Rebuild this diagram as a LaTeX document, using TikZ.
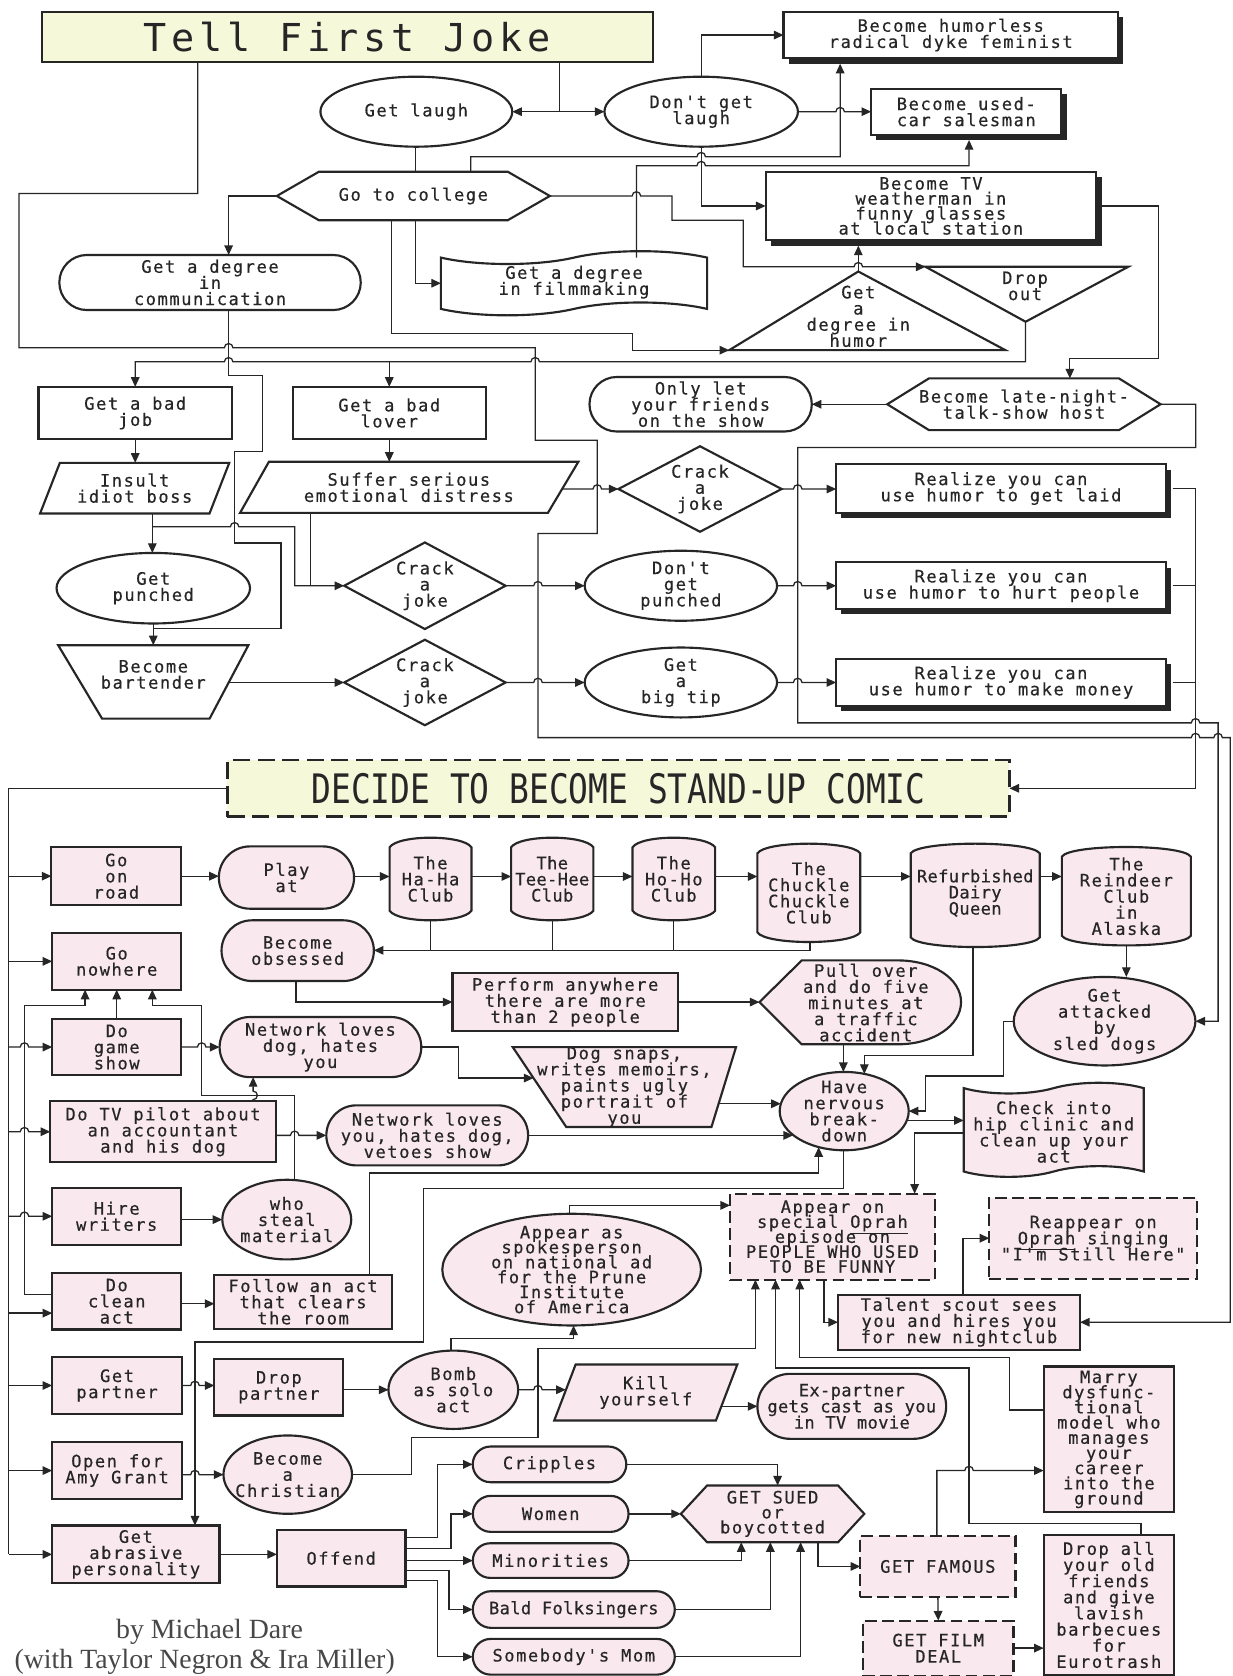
\documentclass[tikz,border=0pt]{standalone}
\usepackage{fontspec}
\usepackage{graphicx}
\usetikzlibrary{arrows.meta,shapes.geometric,shapes.misc,shapes.symbols,shadows}
\setmainfont{Liberation Serif}
\newfontfamily\monof[LetterSpace=9,FakeBold=0.4]{DejaVu Sans Mono}
\newfontfamily\monot[LetterSpace=2,FakeBold=0.4]{DejaVu Sans Mono}
\newfontfamily\titlef[LetterSpace=13]{DejaVu Sans Mono}
\newfontfamily\monoz{DejaVu Sans Mono}
\definecolor{ln}{RGB}{38,38,38}
\definecolor{pk}{RGB}{249,232,237}
\definecolor{yl}{RGB}{246,248,218}
\newcommand\bodyfs{\fontsize{16}{15.1}\selectfont\lineskiplimit=-30pt\lineskip=0pt}
\newcommand\tightfs{\fontsize{16}{14}\selectfont\lineskiplimit=-30pt\lineskip=0pt}
\newcommand\marryfs{\fontsize{16}{14.2}\selectfont\lineskiplimit=-30pt\lineskip=0pt}
\newcommand\clubshape[4]{\draw[pshp] (#1,{#3+9}) .. controls ({#1+8},{#3-3}) and ({#2-8},{#3-3}) .. (#2,{#3+9}) -- (#2,{#4-9}) .. controls ({#2-8},{#4+3}) and ({#1+8},{#4+3}) .. (#1,{#4-9}) -- cycle;}
\newcommand\hexshape[6]{\draw[#6] (#1,{(#3+#4)/2}) -- ({#1+#5},#3) -- ({#2-#5},#3) -- (#2,{(#3+#4)/2}) -- ({#2-#5},#4) -- ({#1+#5},#4) -- cycle;}
\newcommand\diashape[4]{\draw[shp] ({#1-#3},#2) -- (#1,{#2-#4}) -- ({#1+#3},#2) -- (#1,{#2+#4}) -- cycle;}
\tikzset{
  every node/.style={inner sep=0pt, outer sep=0pt},
  wh/.style 2 args={minimum width=#1pt, minimum height=#2pt},
  bd/.style={draw=ln, line width=2pt},
  box/.style={bd, rectangle, fill=white, align=center, font=\monof\bodyfs, text=ln},
  pbox/.style={box, fill=pk},
  sbox/.style={box, drop shadow={shadow xshift=5pt, shadow yshift=-5pt, fill=ln, opacity=1}},
  ell/.style={bd, ellipse, fill=white},
  pell/.style={ell, fill=pk},
  stad/.style={bd, rounded rectangle, fill=white},
  pstad/.style={stad, fill=pk},
  dbox/.style={pbox, dashed, dash pattern=on 11pt off 5pt},
  txt/.style={rectangle, align=center, font=\monof\bodyfs, text=ln},
  shp/.style={draw=ln, line width=2pt, fill=white, line join=miter},
  pshp/.style={shp, fill=pk},
  con/.style={draw=ln, line width=1.2pt},
  arr/.style={con, -{Triangle[length=9pt,width=8pt]}},
  hbr/.style args={#1,#2}{insert path={-- ({#1-4},#2) arc[start angle=180,end angle=0,radius=4pt]}},
  hbl/.style args={#1,#2}{insert path={-- ({#1+4},#2) arc[start angle=0,end angle=180,radius=4pt]}},
  vbu/.style args={#1,#2}{insert path={-- (#1,{#2+4}) arc[start angle=-90,end angle=90,radius=4pt]}},
}
\begin{document}
\begin{tikzpicture}[x=1pt,y=-1pt]
\fill[white] (0,0) rectangle (1153,1568);
\useasboundingbox (0,0) rectangle (1153,1568);

% ================= TOP =================
\node[box, fill=yl, wh={571.6}{46.8}, font=\titlef\fontsize{36}{36}\selectfont] (tfj) at (324.8,34.3) {Tell First Joke};
\node[sbox, wh={313}{43.7}] (humorless) at (889.5,32.8) {Become humorless\\radical dyke feminist};
\node[ell, wh={179.5}{65.5}] (getlaugh) at (389.5,104.5) {};
\node[txt] (getlaugh-t) at (getlaugh) {Get laugh};
\node[ell, wh={181}{65.5}] (dontget) at (656,104.5) {};
\node[txt] (dontget-t) at (dontget) {Don't get\\laugh};
\node[sbox, wh={178}{43}] (usedcar) at (904,104.5) {Become used-\\car salesman};
\hexshape{259}{514.4}{160.7}{206}{39.3}{shp}
\node[txt, wh={255.4}{45.3}] (college) at (386.7,183.35) {Go to college};
\node[sbox, wh={309.3}{64}, font=\monof\tightfs] (weather) at (870.9,192.7) {Become TV\\weatherman in\\funny glasses\\at local station};
\node[stad, wh={282}{51.5}] (comm) at (196.5,264.3) {};
\node[txt] (comm-t) at (comm) {Get a degree\\in\\communication};
\node[bd, tape, fill=white, tape bend height=12pt, wh={249}{60}] (film) at (537,265) {};
\node[txt] (film-t) at (537,264) {Get a degree\\in filmmaking};
\draw[shp] (803,254) -- (940.6,327.6) -- (682.2,327.6) -- cycle;
\node[txt] (humordeg) at (803,296) {Get\\a\\degree in\\humor};
\coordinate (hdtop) at (803,254);
\coordinate (hdbl) at (682.2,327.6);
\draw[shp] (865.9,249.6) -- (1055.5,249.6) -- (959.5,301) -- cycle;
\node[txt] (dropout) at (959,267.5) {Drop\\out};
\coordinate (dotl) at (865.9,249.6);
\coordinate (dobot) at (959.5,301);
\hexshape{830.1}{1085.8}{354}{402.4}{39}{shp}
\node[txt, wh={255.7}{48.4}] (latenight) at (958,378.2) {Become late-night-\\talk-show host};
\node[stad, wh={208}{51}] (friends) at (655.5,378.2) {};
\node[txt] (friends-t) at (friends) {Only let\\your friends\\on the show};
\node[box, wh={181}{49}] (badjob) at (126.5,386.4) {Get a bad\\job};
\node[box, wh={180.6}{49}] (badlover) at (364.2,386.4) {Get a bad\\lover};
\draw[shp] (56,433) -- (214.5,433) -- (196,480.4) -- (37.5,480.4) -- cycle;
\node[txt, wh={158.5}{47.4}] (insult) at (126,456.7) {Insult\\idiot boss};
\draw[shp] (251.6,432) -- (541.1,432) -- (512.6,479.8) -- (224.6,479.8) -- cycle;
\node[txt, wh={288.6}{47.8}] (suffer) at (382.5,456) {Suffer serious\\emotional distress};
\diashape{654.9}{457.5}{76.35}{40}
\node[txt, wh={152.7}{80}] (crack1) at (654.9,457.5) {Crack\\a\\joke};
\node[ell, wh={181}{66}] (punched) at (143.4,550.3) {};
\node[txt] (punched-t) at (punched) {Get\\punched};
\diashape{397.5}{548}{75.5}{40.5}
\node[txt, wh={151}{81}] (crack2) at (397.5,548) {Crack\\a\\joke};
\node[ell, wh={180}{65.5}] (dontpunch) at (637,548) {};
\node[txt] (dontpunch-t) at (dontpunch) {Don't\\get\\punched};
\draw[shp] (54.4,603.6) -- (232.4,603.6) -- (196.1,672.3) -- (95.5,672.3) -- cycle;
\node[txt, wh={141}{68.7}] (bartender) at (143.4,638) {};
\node[txt] (bartender-t) at (143.4,631) {Become\\bartender};
\diashape{397.5}{638.5}{75.5}{40}
\node[txt, wh={151}{80}] (crack3) at (397.5,638.5) {Crack\\a\\joke};
\node[ell, wh={180}{65.4}] (tip) at (637,638.5) {};
\node[txt] (tip-t) at (tip) {Get\\a\\big tip};
\node[sbox, wh={308.5}{45.5}] (laid) at (936.5,457) {Realize you can\\use humor to get laid};
\node[sbox, wh={308.5}{43.7}] (hurt) at (936.5,548) {Realize you can\\use humor to hurt people};
\node[sbox, wh={308.5}{43.7}] (money) at (936.5,638.5) {Realize you can\\use humor to make money};

% ================= DECIDE =================
\node[dbox, fill=yl, line width=2.4pt, dash pattern=on 16pt off 7pt, wh={731.6}{53}] (decide) at (578.6,737.5) {\scalebox{0.81}[1]{\monoz\fontsize{38}{38}\selectfont DECIDE TO BECOME STAND-UP COMIC}};

% ================= LOWER =================
\node[pbox, wh={121.4}{54.6}] (road) at (108.8,819.7) {Go\\on\\road};
\node[pbox, wh={120.7}{53}] (nowhere) at (109.2,899.4) {Go\\nowhere};
\node[pbox, wh={120.7}{53}] (game) at (109.2,979.6) {Do\\game\\show};
\node[pbox, wh={211}{56.8}] (pilot) at (152.5,1058.8) {Do TV pilot about\\an accountant\\and his dog};
\node[pbox, wh={120.7}{53.3}] (writers) at (109.2,1137.9) {Hire\\writers};
\node[pbox, wh={120.7}{52.8}] (clean) at (109.2,1217.4) {Do\\clean\\act};
\node[pbox, wh={121.4}{53}] (partner) at (109.5,1296.2) {Get\\partner};
\node[pbox, wh={121.4}{53}] (amy) at (109.5,1375.8) {Open for\\Amy Grant};
\node[pbox, wh={156.6}{54}] (abrasive) at (127.1,1454.2) {Get\\abrasive\\personality};

\node[pstad, wh={126.5}{58.3}] (playat) at (268,821) {};
\node[txt] (playat-t) at (playat) {Play\\at};
\node[pstad, wh={142.5}{56.8}] (obsessed) at (278.5,889.4) {};
\node[txt] (obsessed-t) at (obsessed) {Become\\obsessed};
\node[pstad, wh={188.7}{56.2}] (netdog) at (299.8,979.6) {};
\node[txt] (netdog-t) at (netdog) {Network loves\\dog, hates\\you};
\node[pell, wh={120.6}{74.5}] (steal) at (268.3,1141) {};
\node[txt] (steal-t) at (steal) {who\\steal\\material};
\node[pbox, wh={165.8}{50.5}] (follow) at (283.5,1217.9) {Follow an act\\that clears\\the room};
\node[pbox, wh={120.6}{53}] (droppartner) at (260.9,1297.8) {Drop\\partner};
\node[pell, wh={120.3}{73.3}] (christian) at (269.2,1379.6) {};
\node[txt] (christian-t) at (christian) {Become\\a\\Christian};
\node[pbox, wh={120.3}{53}] (offend) at (319.2,1457.8) {Offend};

\clubshape{364.5}{441.1}{783.7}{861}
\node[txt, wh={76.6}{77.3}] (haha) at (402.8,822.35) {The\\Ha-Ha\\Club};
\clubshape{478.2}{555.1}{783.7}{861}
\node[txt, wh={76.9}{77.3}, font=\monot\bodyfs] (teehee) at (516.65,822.35) {The\\Tee-Hee\\Club};
\clubshape{591.7}{669}{783.7}{861}
\node[txt, wh={77.3}{77.3}] (hoho) at (630.35,822.35) {The\\Ho-Ho\\Club};
\clubshape{708.6}{804.8}{789.3}{881.3}
\node[txt, wh={96.2}{92}] (chuckle) at (756.7,835.3) {The\\Chuckle\\Chuckle\\Club};
\clubshape{852}{972.7}{789.3}{886}
\node[txt, wh={120.7}{96.7}, font=\monot\bodyfs] (dairy) at (912.35,835.5) {Refurbished\\Dairy\\Queen};
\clubshape{993.4}{1114.1}{792.4}{884.5}
\node[txt, wh={120.7}{92.1}] (reindeer) at (1053.75,838.45) {The\\Reindeer\\Club\\in\\Alaska};

\node[pbox, wh={211}{54}] (perform) at (528.8,937.5) {Perform anywhere\\there are more\\than 2 people};
\draw[pshp] (710.5,937.5) -- (750.1,898.5) -- (840,898.5) .. controls (873,898.5) and (899.1,915.5) .. (899.1,937.5) .. controls (899.1,959.5) and (873,977) .. (840,977) -- (750.1,977) -- cycle;
\node[txt, wh={188.6}{78.5}] (pullover) at (804.8,937.5) {};
\node[txt] (pullover-t) at (810,938) {Pull over\\and do five\\minutes at\\a traffic\\accident};
\node[pell, wh={170}{82.8}] (sled) at (1033.4,955.4) {};
\node[txt] (sled-t) at (sled) {Get\\attacked\\by\\sled dogs};
\draw[pshp] (479.7,979.6) -- (688.6,979.6) -- (665.6,1054.4) -- (529.8,1054.4) -- cycle;
\node[txt, wh={209}{74.8}] (dogsnaps) at (584.2,1017) {Dog snaps,\\writes memoirs,\\paints ugly\\portrait of\\you};
\coordinate (dsin) at (499.1,1008.6);
\node[pstad, wh={188.8}{56.2}] (netyou) at (399.7,1062.2) {};
\node[txt] (netyou-t) at (netyou) {Network loves\\you, hates dog,\\vetoes show};
\node[pell, wh={120.7}{73.3}] (nervous) at (789.8,1039.5) {};
\node[txt] (nervous-t) at (nervous) {Have\\nervous\\break-\\down};
\node[bd, tape, fill=pk, tape bend height=10pt, wh={168.4}{88}] (hip) at (985.8,1057) {};
\node[txt] (hip-t) at (985.8,1059) {Check into\\hip clinic and\\clean up your\\act};
\node[dbox, wh={191.6}{80.5}, font=\monof\tightfs] (oprah) at (778.8,1157) {Appear on\\special \underline{Oprah}\\episode on\\PEOPLE WHO USED\\TO BE FUNNY};
\node[dbox, wh={194.3}{75.8}] (reappear) at (1022.7,1158.4) {Reappear on\\\underline{Oprah} singing\\"I'm Still Here"};
\node[pell, wh={242}{104.5}] (prune) at (534.8,1187.8) {};
\node[txt, font=\monof\tightfs] (prune-t) at (prune) {Appear as\\spokesperson\\on national ad\\for the Prune\\Institute\\of America};
\node[pbox, wh={226.4}{51.5}] (talent) at (897.2,1237) {Talent scout sees\\you and hires you\\for new nightclub};
\node[pell, wh={121.4}{73.3}] (bomb) at (424.1,1300.2) {};
\node[txt] (bomb-t) at (bomb) {Bomb\\as solo\\act};
\draw[pshp] (538.5,1276.6) -- (689.8,1276.6) -- (669.8,1329) -- (518.5,1329) -- cycle;
\node[txt, wh={151.3}{52.4}] (kill) at (604.2,1302.8) {Kill\\yourself};
\node[pstad, wh={176.6}{60.8}] (expartner) at (796.9,1315.7) {};
\node[txt, font=\monot\bodyfs] (expartner-t) at (expartner) {Ex-partner\\gets cast as you\\in TV movie};
\node[pbox, wh={122}{136.4}, font=\monof\marryfs] (marry) at (1037.4,1346.6) {Marry\\dysfunc-\\tional\\model who\\manages\\your\\career\\into the\\ground};
\node[pstad, wh={143.7}{33.4}] (cripples) at (514.1,1370) {};
\node[txt] (cripples-t) at (cripples) {Cripples};
\node[pstad, wh={145.7}{33.7}] (women) at (515.2,1416.3) {};
\node[txt] (women-t) at (women) {Women};
\node[pstad, wh={145.7}{32.4}] (minorities) at (515.2,1460) {};
\node[txt] (minorities-t) at (minorities) {Minorities};
\node[pstad, wh={189}{34.3}] (bald) at (536.8,1505.8) {};
\node[txt, font=\monot\bodyfs] (bald-t) at (bald) {Bald Folksingers};
\node[pstad, wh={189}{33.4}] (mom) at (536.8,1550) {};
\node[txt] (mom-t) at (mom) {Somebody's Mom};
\hexshape{637}{808.6}{1389.8}{1442.8}{24.5}{pshp}
\node[txt, wh={171.6}{53}, font=\monof\tightfs] (sued) at (722.8,1416.3) {GET SUED\\or\\boycotted};
\node[dbox, wh={145.2}{57.7}] (famous) at (877.4,1465.5) {GET FAMOUS};
\node[dbox, wh={140.7}{51.5}] (filmdeal) at (877.8,1541.9) {GET FILM\\DEAL};
\node[pbox, wh={122}{130.4}] (dropall) at (1037.4,1501.5) {Drop all\\your old\\friends\\and give\\lavish\\barbecues\\for\\Eurotrash};

\node[font=\fontsize{26}{26}\selectfont, text=ln!85, anchor=base] (by) at (196,1533) {by Michael Dare};
\node[font=\fontsize{26}{26}\selectfont, text=ln!85, anchor=base] (with) at (191.5,1561) {(with Taylor Negron \& Ira Miller)};

% ================= CONNECTORS: TOP =================
\draw[arr] (523.7,0 |- tfj.south) |- (getlaugh.east);
\draw[arr] (523.7,104.5) -- (dontget.west);
\draw[arr] (185,0 |- tfj.south) -- (185,181) -- (17.8,181) -- (17.8,325.4) [hbr={213.9,325.4}] -- (500.7,325.4) -- (500.7,411.8) -- (558.8,411.8) -- (558.8,499.1) -- (503.3,499.1) -- (503.3,690.1) [hbr={1118.5,690.1}] [hbr={1139.6,690.1}] -- (1151,690.1) |- (talent.east);
\draw[con] (388.6,0 |- getlaugh.south) -- (388.6,0 |- college.north);
\draw[arr] (440.4,0 |- college.north) -- (440.4,146.6) [hbr={656,146.6}] -- (786,146.6) -- (786,59.6);
\draw[arr] (dontget.north) |- (humorless.west);
\draw[arr] (dontget.east) [hbr={786,104.5}] -- (usedcar.west);
\draw[arr] (dontget.south) |- (weather.west);
\draw[arr] (595.4,0 |- film.north) -- (595.4,155) [hbr={656,155}] -- (906.6,155) -- (906.6,131);
\draw[arr] (college.east) [hbr={595.4,183.35}] -- (628.6,183.35) -- (628.6,206) -- (695.4,206) -- (695.4,249.6) [hbr={803,249.6}] -- (dotl);
\draw[arr] (college.west) -| (213.9,0 |- comm.north);
\draw[arr] (388.6,0 |- college.south) |- (film.west);
\draw[arr] (366.4,0 |- college.south) -- (366.4,312) -- (591.7,312) -- (591.7,327.6) -- (hdbl);
\draw[arr] (hdtop) -- (803,229.8);
\draw[arr] (1031,0 |- weather.east) -- (1083.7,192.7) -- (1083.7,335.4) -- (1000.9,335.4) -- (1000.9,0 |- latenight.north);
\draw[arr] (dobot) -- (959.5,338.5) [hbl={500.7,338.5}] [hbl={213.9,338.5}] -- (126.5,338.5) -- (badjob.north);
\draw[arr] (364.2,338.5) -- (badlover.north);
\draw[arr] (latenight.west) -- (friends.east);
\draw[arr] (latenight.east) -- (1118.6,378.2) -- (1118.6,418.6) -- (746.3,418.6) -- (746.3,676.3) [hbr={1118.5,676.3}] -- (1139.6,676.3) |- (sled.east);
\draw[con] (1097,0 |- hurt.east) -- (1118.5,0 |- hurt.east);
\draw[con] (1097,0 |- money.east) -- (1118.5,0 |- money.east);
\draw[arr] (1097,0 |- laid.east) -- (1118.5,0 |- laid.east) |- (decide.east);

% ================= CONNECTORS: MIDDLE =================
\draw[arr] (suffer.east |- crack1.west) [hbr={558.8,457.5}] -- (crack1.west);
\draw[arr] (crack1.east) [hbr={746.3,457.5}] -- (laid.west |- crack1.east);
\draw[arr] (badjob.south) -- (badjob.south |- insult.north);
\draw[arr] (badlover.south) -- (badlover.south |- suffer.north);
\draw[arr] (142.5,0 |- insult.south) -- (142.5,0 |- punched.north);
\draw[arr] (142.5,492.9) [hbr={219.5,492.9}] -- (275.7,492.9) |- (crack2.west);
\draw[con] (290.5,0 |- suffer.south) -- (290.5,0 |- crack2.west);
\draw[arr] (213.9,0 |- comm.south) -- (213.9,351) -- (245.4,351) -- (245.4,422.7) -- (219.5,422.7) -- (219.5,507.9) -- (262.8,507.9) -- (262.8,588) -- (143.4,588) -- (bartender.north);
\draw[con] (punched.south) -- (143.4,588);
\draw[arr] (bartender.east |- crack3.west) -- (crack3.west);
\draw[arr] (crack2.east) [hbr={503.3,548}] -- (dontpunch.west);
\draw[arr] (dontpunch.east) [hbr={746.3,548}] -- (hurt.west);
\draw[arr] (crack3.east) [hbr={503.3,638.5}] -- (tip.west);
\draw[arr] (tip.east) [hbr={746.3,638.5}] -- (money.west);

% ================= CONNECTORS: LOWER =================
\draw[con] (decide.west) -| (8.1,0 |- abrasive.west);
\draw[arr] (8.1,0 |- road.west) -- (road.west);
\draw[arr] (8.1,0 |- nowhere.west) -- (nowhere.west);
\draw[arr] (8.1,0 |- game.west) [hbr={22.9,979.6}] -- (game.west);
\draw[arr] (8.1,0 |- pilot.west) [hbr={22.9,1058.8}] -- (pilot.west);
\draw[arr] (8.1,0 |- writers.west) [hbr={22.9,1137.9}] -- (writers.west);
\draw[arr] (8.1,1228.5) -- (clean.west |- 0,1228.5);
\draw[arr] (8.1,0 |- partner.west) -- (partner.west);
\draw[arr] (8.1,0 |- amy.west) -- (amy.west);
\draw[arr] (8.1,0 |- abrasive.west) -- (abrasive.west);

\draw[arr] (road.east) -- (playat.west |- road.east);
\draw[arr] (playat.east |- 0,820) -- (haha.west |- 0,820);
\draw[arr] (haha.east |- 0,820) -- (teehee.west |- 0,820);
\draw[arr] (teehee.east |- 0,820) -- (hoho.west |- 0,820);
\draw[arr] (hoho.east |- 0,820) -- (chuckle.west |- 0,820);
\draw[arr] (chuckle.east |- 0,820) -- (dairy.west |- 0,820);
\draw[arr] (dairy.east |- 0,820) -- (reindeer.west |- 0,820);
\draw[arr] (757.7,0 |- chuckle.south) -- (757.7,889.1) -- (obsessed.east |- 0,889.1);
\draw[con] (haha.south) -- (haha.south |- 0,889.1);
\draw[con] (teehee.south) -- (teehee.south |- 0,889.1);
\draw[con] (hoho.south) -- (hoho.south |- 0,889.1);
\draw[arr] (276.8,0 |- obsessed.south) |- (perform.west);
\draw[arr] (perform.east) -- (pullover.west);
\draw[arr] (reindeer.south) -- (reindeer.south |- sled.north);
\draw[arr] (789,0 |- pullover.south) -- (789,1002.9);
\draw[arr] (910.4,886) -- (910.4,987.4) -- (808.6,987.4) -- (808.6,1004.7);
\draw[arr] (sled.west) -- (939,955.4) -- (939,1006.6) -- (865.7,1006.6) |- (nervous.east);

\draw[arr] (clean.west |- 0,1211.3) -- (22.9,1211.3) -- (22.9,940.6) -- (79.6,940.6) -- (79.6,0 |- nowhere.south);
\draw[arr] (game.north) -- (nowhere.south);
\draw[arr] (275.7,0 |- steal.north) -- (275.7,1024.8) -- (188.7,1024.8) -- (188.7,940.6) -- (142.5,940.6) -- (142.5,0 |- nowhere.south);
\draw[arr] (236.8,0 |- pilot.north) [vbu={236.8,1024.8}] -- (236.8,0 |- netdog.south);
\draw[arr] (game.east) [hbr={188.7,979.6}] -- (netdog.west);
\draw[arr] (netdog.east) -- (428.7,979.6) -- (428.7,1008.6) -- (dsin);
\draw[arr] (pilot.east |- netyou.west) [hbr={275.7,1062.2}] -- (netyou.west);
\draw[arr] (writers.east |- steal.west) -- (steal.west);
\draw[arr] (clean.east |- 0,1219.7) -- (follow.west |- 0,1219.7);
\draw[arr] (netyou.east) -- (netyou.east -| nervous.205);
\draw[arr] (672.3,1032.6) -- (730.5,1032.6);
\draw[arr] (346,0 |- follow.north) -- (346,1097.5) -- (765.9,1097.5) -- (765.9,1073.2);
\draw[arr] (789,0 |- nervous.south) -- (789,1112.2) -- (396,1112.2) -- (396,1255.6) -- (182.4,1255.6) -- (182.4,0 |- abrasive.north);
\draw[arr] (848.4,1048.2) -- (hip.west |- 0,1048.2);
\draw[arr] (hip.west |- 0,1060) -- (855.7,1060) -- (855.7,0 |- oprah.north);

\draw[arr] (421.8,0 |- bomb.north) -- (421.8,1252.5) -- (536.6,1252.5) -- (536.6,0 |- prune.south);
\draw[arr] (533,0 |- prune.north) -- (533,1127.7) -- (oprah.west |- 0,1127.7);
\draw[arr] (christian.east) -- (384.9,1379.6) -- (384.9,1344.6) -- (503.3,1344.6) -- (503.3,1261.9) -- (706.7,1261.9) -- (706.7,0 |- oprah.south);
\draw[arr] (bomb.east) [hbr={503.3,1300.2}] -- (529.3,1300.2);
\draw[arr] (675.7,1315.7) -- (expartner.west);
\draw[arr] (droppartner.east |- bomb.west) -- (bomb.west);
\draw[arr] (partner.east) [hbr={182.4,1296.2}] -- (droppartner.west |- partner.east);
\draw[arr] (amy.east |- christian.west) [hbr={182.4,1379.6}] -- (christian.west);
\draw[arr] (abrasive.east) -- (offend.west |- abrasive.east);

\draw[arr] (offend.east |- 0,1438.2) -- (409,1438.2) |- (cripples.west);
\draw[arr] (offend.east |- 0,1449) -- (421.9,1449) |- (women.west);
\draw[arr] (offend.east |- minorities.west) -- (minorities.west);
\draw[arr] (offend.east |- 0,1469.4) -- (420,1469.4) |- (bald.west);
\draw[arr] (offend.east |- 0,1478.7) -- (409,1478.7) |- (mom.west);
\draw[arr] (cripples.east) -- (727.5,1370) -- (727.5,0 |- sued.north);
\draw[arr] (women.east) -- (sued.west);
\draw[arr] (minorities.east) -| (693.5,0 |- sued.south);
\draw[arr] (bald.east) -| (720.7,0 |- sued.south);
\draw[arr] (mom.east) -| (749,0 |- sued.south);
\draw[arr] (765.2,0 |- sued.south) |- (famous.west);
\draw[arr] (famous.south) -- (filmdeal.north);
\draw[arr] (filmdeal.east) -- (dropall.west |- filmdeal.east);
\draw[arr] (876.5,0 |- famous.north) -- (876.5,1375.8) [hbr={906.6,1375.8}] -- (marry.west |- 0,1375.8);
\draw[arr] (marry.west |- 0,1319) -- (944.4,1319) -- (944.4,1270.3) -- (748.2,1270.3) -- (748.2,0 |- oprah.south);
\draw[arr] (1067.4,0 |- dropall.north) -- (1067.4,1425) -- (906.6,1425) -- (906.6,1279.7) -- (725.6,1279.7) -- (725.6,0 |- oprah.south);
\draw[arr] (770.9,0 |- oprah.south) |- (talent.west);
\draw[arr] (901,0 |- talent.north) |- (reappear.west);
\end{tikzpicture}
\end{document}
